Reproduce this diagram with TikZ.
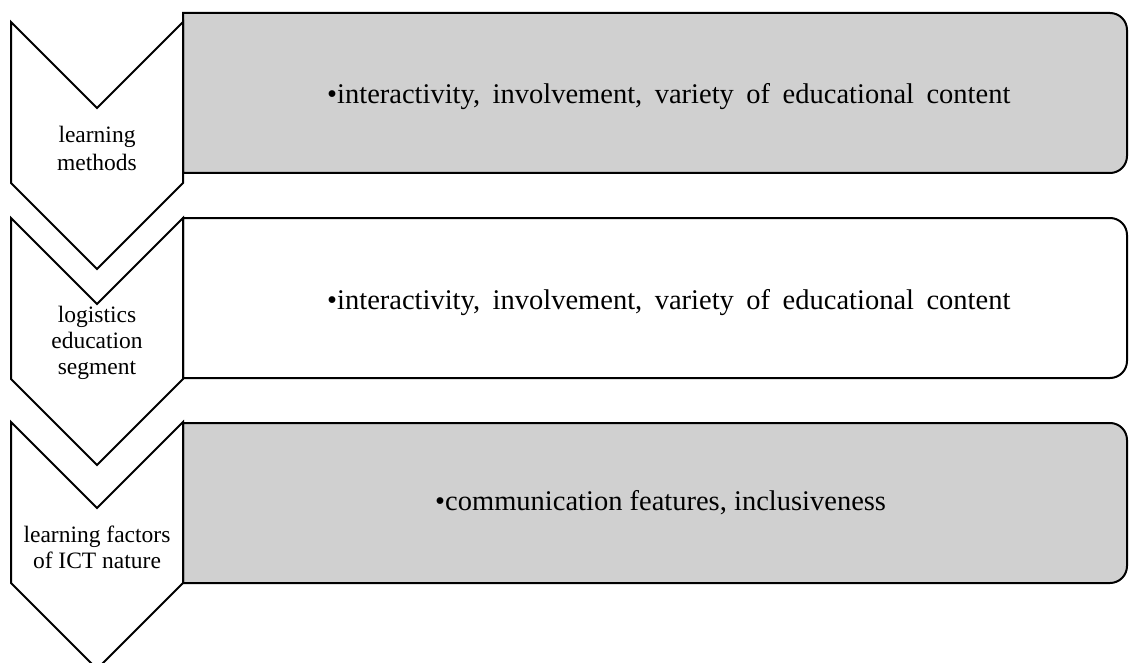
\documentclass[tikz,border=0pt]{standalone}
\usepackage{fontspec}
\setmainfont{Liberation Serif}
\definecolor{boxgray}{HTML}{D0D0D0}
\tikzset{
  shapeline/.style={draw=black, line width=2pt, line join=miter},
  chevlabel/.style={align=center, font=\fontsize{23.5}{26}\selectfont, inner sep=0pt},
  boxtext/.style={anchor=base west, font=\fontsize{28.5}{34}\selectfont, inner sep=0pt}
}
\newcommand{\chevronshape}[1]{%
  \draw[shapeline, fill=white] (11,#1) -- (97,#1+86) -- (183,#1) -- (183,#1+161) -- (97,#1+247) -- (11,#1+161) -- cycle;}
\newcommand{\boxshape}[2]{%
  \draw[shapeline, fill=#2] (183,#1) [rounded corners=17pt] -- (1127,#1) -- (1127,#1+160) [sharp corners] -- (183,#1+160) -- cycle;}
\begin{document}
\begin{tikzpicture}[x=1pt,y=-1pt]
\useasboundingbox (0,0) rectangle (1129,663);
% row 1
\boxshape{13}{boxgray}
\chevronshape{22}
% row 2
\boxshape{218}{white}
\chevronshape{218}
% row 3
\boxshape{423}{boxgray}
\chevronshape{422}
% labels
\node[chevlabel] (l1) at (97,148) {learning\\[2pt]methods};
\node[chevlabel] (l2) at (97,343) {logistics\\education\\segment};
\node[chevlabel] (l3) at (97,547) {learning factors\\of ICT nature};
\node[boxtext] (t1) at (327,104) {\spaceskip=12.5pt\textbullet interactivity, involvement, variety of educational content};
\node[boxtext] (t2) at (327,309) {\spaceskip=12.5pt\textbullet interactivity, involvement, variety of educational content};
\node[boxtext] (t3) at (435,510) {\textbullet communication features, inclusiveness};
\end{tikzpicture}
\end{document}
